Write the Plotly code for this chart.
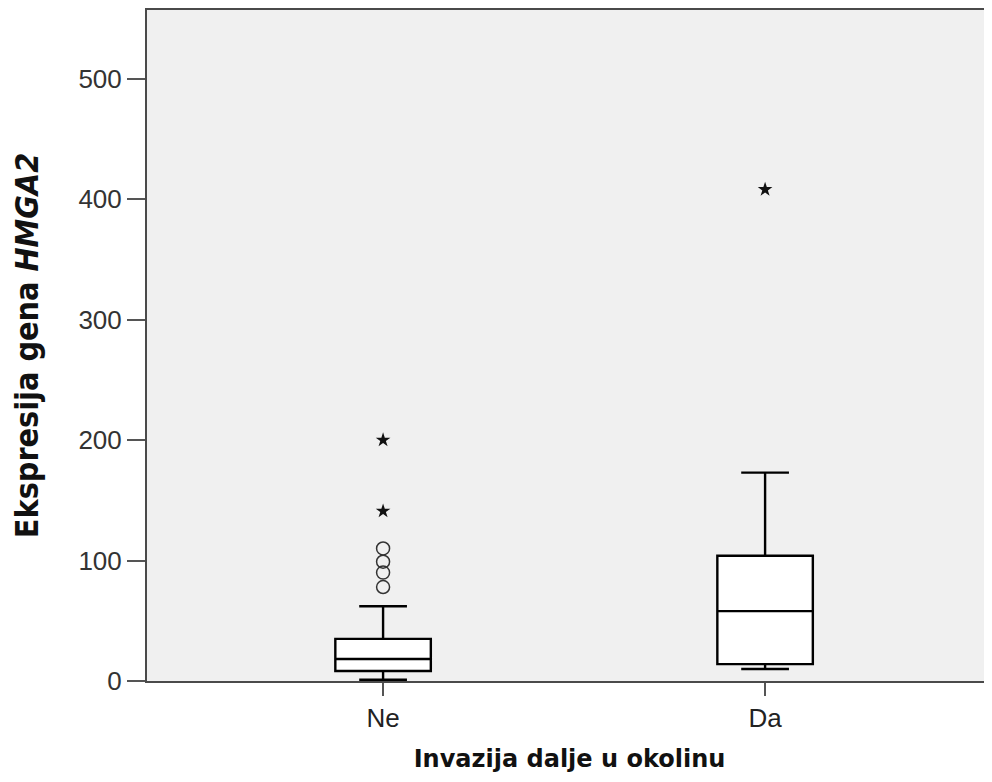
import plotly.graph_objects as go

categories = ["Ne", "Da"]
q1 = [8.3, 14]
median = [18.3, 58]
q3 = [35, 104]
lower_fence = [1, 10]
upper_fence = [62, 173]

circle_cat = ["Ne", "Ne", "Ne", "Ne"]
circle_vals = [110, 99, 90, 78]
star_cat = ["Ne", "Ne", "Da"]
star_vals = [200, 141, 408]

y_ticks = [0, 100, 200, 300, 400, 500]

fig = go.Figure()
for i, c in enumerate(categories):
    fig.add_trace(go.Box(
        x=[c], q1=[q1[i]], median=[median[i]], q3=[q3[i]],
        lowerfence=[lower_fence[i]], upperfence=[upper_fence[i]],
        boxpoints=False, width=0.25, whiskerwidth=0.5,
        fillcolor="white", line=dict(color="black", width=2.4),
        showlegend=False, hoverinfo="skip"))

fig.add_trace(go.Scatter(
    x=circle_cat, y=circle_vals, mode="markers",
    marker=dict(symbol="circle-open", size=13, color="#333333", line=dict(width=1.5)),
    showlegend=False))
fig.add_trace(go.Scatter(
    x=star_cat, y=star_vals, mode="markers",
    marker=dict(symbol="star", size=11, color="#111111"),
    showlegend=False))

fig.update_layout(
    width=984, height=774,
    margin=dict(l=139, r=0, t=2, b=101),
    paper_bgcolor="white", plot_bgcolor="#f0f0f0",
    font=dict(family="Liberation Sans, Arial", color="#222222"),
)
fig.update_xaxes(
    type="category", categoryorder="array", categoryarray=categories,
    range=[-0.618, 1.594], showgrid=False, zeroline=False,
    showline=True, linecolor="#4a4a4a", linewidth=2, mirror=True,
    ticks="outside", ticklen=13, tickwidth=1.5, tickcolor="#555555",
    tickfont=dict(size=26, color="#222222"),
    title=dict(text="<b>Invazija dalje u okolinu</b>",
               font=dict(family="DejaVu Sans", size=24, color="#111111"),
               standoff=18),
)
fig.update_yaxes(
    range=[0, 557], tickvals=y_ticks, showgrid=False, zeroline=False,
    showline=True, linecolor="#4a4a4a", linewidth=2, mirror=False,
    ticks="outside", ticklen=18, tickwidth=1.5, tickcolor="#555555",
    tickfont=dict(size=26, color="#333333"),
    title=dict(text="<b>Ekspresija gena <i>HMGA2</i></b>",
               font=dict(family="DejaVu Sans Condensed, DejaVu Sans", size=32, color="#111111"),
               standoff=30),
)

fig.write_html("out.html")
